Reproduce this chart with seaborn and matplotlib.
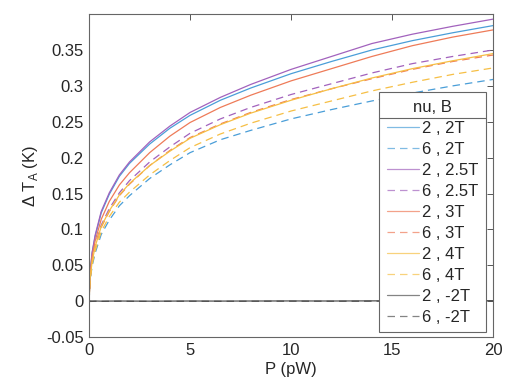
import numpy as np
import pandas as pd
import matplotlib
matplotlib.use("Agg")
import matplotlib.pyplot as plt
import seaborn as sns
from matplotlib.lines import Line2D

# power (pW) sample points
P = [0, 0.05, 0.15, 0.3, 0.6, 1, 1.5, 2, 3, 4, 5, 6.5, 8, 10, 12, 14, 16, 18, 20]

# Delta T_A (K)
nu2_2T = [0, 0.039, 0.067, 0.090, 0.123, 0.149, 0.174, 0.192, 0.219, 0.241, 0.259, 0.280, 0.297, 0.317, 0.334, 0.350, 0.363, 0.374, 0.384]
nu6_2T = [0, 0.028, 0.049, 0.067, 0.093, 0.113, 0.133, 0.147, 0.171, 0.190, 0.207, 0.225, 0.238, 0.254, 0.267, 0.279, 0.290, 0.300, 0.309]
nu2_25T = [0, 0.040, 0.068, 0.092, 0.125, 0.151, 0.176, 0.194, 0.222, 0.244, 0.263, 0.284, 0.302, 0.323, 0.341, 0.359, 0.372, 0.383, 0.393]
nu6_25T = [0, 0.033, 0.057, 0.078, 0.106, 0.129, 0.151, 0.168, 0.194, 0.215, 0.234, 0.254, 0.270, 0.288, 0.303, 0.318, 0.331, 0.341, 0.350]
nu2_3T = [0, 0.036, 0.062, 0.084, 0.114, 0.139, 0.162, 0.179, 0.207, 0.230, 0.249, 0.270, 0.287, 0.307, 0.324, 0.341, 0.356, 0.368, 0.378]
nu6_3T = [0, 0.031, 0.054, 0.075, 0.103, 0.125, 0.147, 0.163, 0.189, 0.210, 0.228, 0.247, 0.263, 0.281, 0.296, 0.310, 0.323, 0.334, 0.343]
nu2_4T = [0, 0.032, 0.055, 0.076, 0.104, 0.126, 0.148, 0.164, 0.189, 0.209, 0.227, 0.246, 0.262, 0.280, 0.296, 0.311, 0.324, 0.335, 0.345]
nu6_4T = [0, 0.029, 0.051, 0.070, 0.097, 0.118, 0.138, 0.152, 0.176, 0.196, 0.214, 0.233, 0.248, 0.265, 0.279, 0.293, 0.305, 0.316, 0.325]
nu2_m2T = [0, 0.0004, 0.0002, 0.0003, 0.0001, 0.0002, 0.0003, 0.0002, 0.0001, 0.0002, 0.0003, 0.0002, 0.0003, 0.0004, 0.0003, 0.0005, 0.0006, 0.0007, 0.0008]
nu6_m2T = [0, -0.0003, -0.0002, -0.0001, -0.0002, -0.0001, 0.0000, -0.0001, -0.0002, -0.0001, 0.0000, -0.0001, 0.0000, 0.0001, 0.0000, 0.0001, 0.0002, 0.0001, 0.0002]

labels = ["2 , 2T", "6 , 2T", "2 , 2.5T", "6 , 2.5T", "2 , 3T",
          "6 , 3T", "2 , 4T", "6 , 4T", "2 , -2T", "6 , -2T"]
series = [nu2_2T, nu6_2T, nu2_25T, nu6_25T, nu2_3T,
          nu6_3T, nu2_4T, nu6_4T, nu2_m2T, nu6_m2T]

colors = ["#4a9ed8", "#4a9ed8", "#a262bd", "#a262bd", "#ee7b58",
          "#ee7b58", "#f6bf45", "#f6bf45", "#505050", "#505050"]

sns.set_theme(style="white")
plt.rcParams['font.family'] = ['Liberation Sans', 'DejaVu Sans']
plt.rcParams['mathtext.fontset'] = 'custom'
plt.rcParams['mathtext.rm'] = 'Liberation Sans'

fig = plt.figure(figsize=(5.24, 3.92), dpi=100)
ax = fig.add_axes([0.170, 0.140, 0.771, 0.824])

for i, (lab, vals) in enumerate(zip(labels, series)):
    sns.lineplot(x=P, y=vals, ax=ax, color=colors[i], label=lab, lw=0.9)
    if i % 2 == 1:
        ax.lines[-1].set_dashes((6, 4))

ax.set_xlim(0, 20)
ax.set_ylim(-0.05, 0.4)
ax.set_xticks([0, 5, 10, 15, 20])
ax.set_yticks([-0.05, 0, 0.05, 0.1, 0.15, 0.2, 0.25, 0.3, 0.35])
ax.set_yticklabels(["-0.05", "0", "0.05", "0.1", "0.15", "0.2", "0.25", "0.3", "0.35"])
ax.tick_params(direction='in', top=True, right=True, length=4, width=0.7,
               colors='#555555', labelcolor='#262626', labelsize=12, pad=4)
for s in ax.spines.values():
    s.set_color('#666666')
    s.set_linewidth(0.8)

ax.set_xlabel("P (pW)", fontsize=12, color='#262626', labelpad=3)
ax.set_ylabel(r"Δ T$_\mathregular{A}$ (K)", fontsize=12, color='#262626', labelpad=4)

leg = ax.legend(title="nu, B", loc='lower right', bbox_to_anchor=(0.983, 0.015),
                fontsize=12, title_fontsize=12, frameon=True, fancybox=False,
                framealpha=1, edgecolor='#666666', handlelength=1.95,
                handletextpad=0.2, labelspacing=0.36, borderpad=0.45,
                borderaxespad=0)
leg.get_frame().set_linewidth(0.8)
for h in leg.get_lines():
    h.set_alpha(0.7)

# separator under the legend title
fig.canvas.draw()
inv = fig.transFigure.inverted()
fb = leg.get_frame().get_window_extent()
tb = leg.get_title().get_window_extent()
y_sep = tb.y0 - 3
(x0, ys), (x1, _) = inv.transform([(fb.x0, y_sep), (fb.x1, y_sep)])
fig.add_artist(Line2D([x0, x1], [ys, ys], color='#666666', lw=0.8))

fig.savefig("out.png", dpi=100)
